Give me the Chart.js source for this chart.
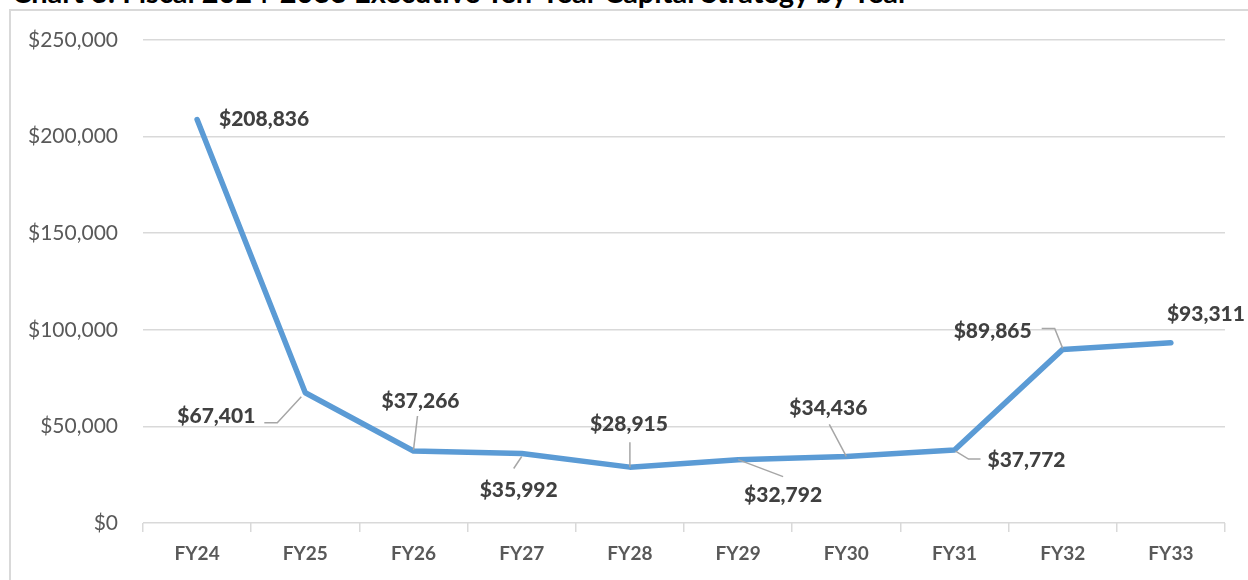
<!DOCTYPE html>
<html>
<head>
<meta charset="utf-8">
<script src="https://cdn.jsdelivr.net/npm/chart.js@4"></script>
<style>
  html, body { margin: 0; padding: 0; background: #fff; overflow: hidden; }
  #wrap { position: relative; width: 1248px; height: 580px; overflow: hidden; }
  #title {
    position: absolute; left: 12px; top: -26px;
    font-family: Lato, sans-serif; font-weight: bold; font-size: 29px;
    color: #000; white-space: nowrap;
  }
  #frame {
    position: absolute; left: 9px; top: 9px; width: 1300px; height: 700px;
    border: 2px solid #D9D9D9; box-sizing: border-box;
  }
  #chart { position: absolute; left: 0; top: 0; }
</style>
</head>
<body>
<div id="wrap">
  <div id="frame"></div>
  <div id="title">Chart 3: Fiscal 2024-2033 Executive Ten-Year Capital Strategy by Year</div>
  <canvas id="chart" width="1248" height="580"></canvas>
</div>
<script>
// dati del grafico
const years = ['FY24', 'FY25', 'FY26', 'FY27', 'FY28', 'FY29', 'FY30', 'FY31', 'FY32', 'FY33'];
const capitalStrategy = [208836, 67401, 37266, 35992, 28915, 32792, 34436, 37772, 89865, 93311];
const yTicks = [0, 50000, 100000, 150000, 200000, 250000];

// posizione delle etichette rispetto al punto (pixel) e linee guida
const labelOffsets = [
  { dx: 67, dy: 0 },
  { dx: -89, dy: 23, leader: [[-4, 4], [-28, 30], [-41, 30]] },
  { dx: 7, dy: -50, leader: [[4, -35], [0, -1]] },
  { dx: -3, dy: 37, leader: [[0, 3], [-8, 15]] },
  { dx: -1, dy: -43, leader: [[0, -25], [0, 0]] },
  { dx: 45, dy: 36, leader: [[0, 0], [45, 17]] },
  { dx: -18, dy: -48, leader: [[-17, -32], [0, 0]] },
  { dx: 72, dy: 10, leader: [[1, 1], [14, 9], [26, 9]] },
  { dx: -70, dy: -18, leader: [[-21, -21], [-8, -21], [0, -1]] },
  { dx: 35, dy: -28 }
];

function formatDollar(v) {
  return '$' + v.toLocaleString('en-US');
}

const dataLabels = {
  id: 'dataLabels',
  afterDatasetsDraw(chart) {
    const ctx = chart.ctx;
    const meta = chart.getDatasetMeta(0);
    ctx.save();
    meta.data.forEach((pt, i) => {
      const off = labelOffsets[i];
      if (off.leader) {
        ctx.beginPath();
        ctx.strokeStyle = '#A6A6A6';
        ctx.lineWidth = 1.5;
        off.leader.forEach((p, j) => {
          if (j === 0) ctx.moveTo(pt.x + p[0], pt.y + p[1]);
          else ctx.lineTo(pt.x + p[0], pt.y + p[1]);
        });
        ctx.stroke();
      }
      ctx.font = '900 21px Lato';
      ctx.fillStyle = '#404040';
      ctx.textAlign = 'center';
      ctx.textBaseline = 'middle';
      ctx.fillText(formatDollar(capitalStrategy[i]), pt.x + off.dx, pt.y + off.dy);
    });
    ctx.restore();
  }
};

new Chart(document.getElementById('chart'), {
  type: 'line',
  data: {
    labels: years,
    datasets: [{
      data: capitalStrategy,
      borderColor: '#5B9BD5',
      borderWidth: 5.5,
      pointRadius: 0,
      tension: 0,
      borderCapStyle: 'round',
      borderJoinStyle: 'round'
    }]
  },
  options: {
    responsive: false,
    animation: false,
    layout: { padding: { top: 40, right: 23, left: 0, bottom: 0 } },
    plugins: { legend: { display: false }, tooltip: { enabled: false } },
    scales: {
      x: {
        offset: true,
        grid: {
          offset: true,
          drawOnChartArea: false,
          color: '#D9D9D9',
          lineWidth: 1.5,
          tickLength: 9
        },
        border: { display: false },
        ticks: {
          color: '#595959',
          font: { family: 'Lato', weight: 'bold', size: 19 },
          padding: 10,
          maxRotation: 0
        },
        afterFit(scale) { scale.height = 57; }
      },
      y: {
        min: 0,
        max: 250000,
        afterBuildTicks(scale) { scale.ticks = yTicks.map(v => ({ value: v })); },
        grid: { color: '#D9D9D9', lineWidth: 1.5, drawTicks: false },
        border: { display: false },
        ticks: {
          color: '#595959',
          font: { family: 'Lato', size: 21 },
          padding: 25,
          callback: v => formatDollar(v)
        },
        afterFit(scale) { scale.width = 143; }
      }
    }
  },
  plugins: [dataLabels]
});
</script>
</body>
</html>
